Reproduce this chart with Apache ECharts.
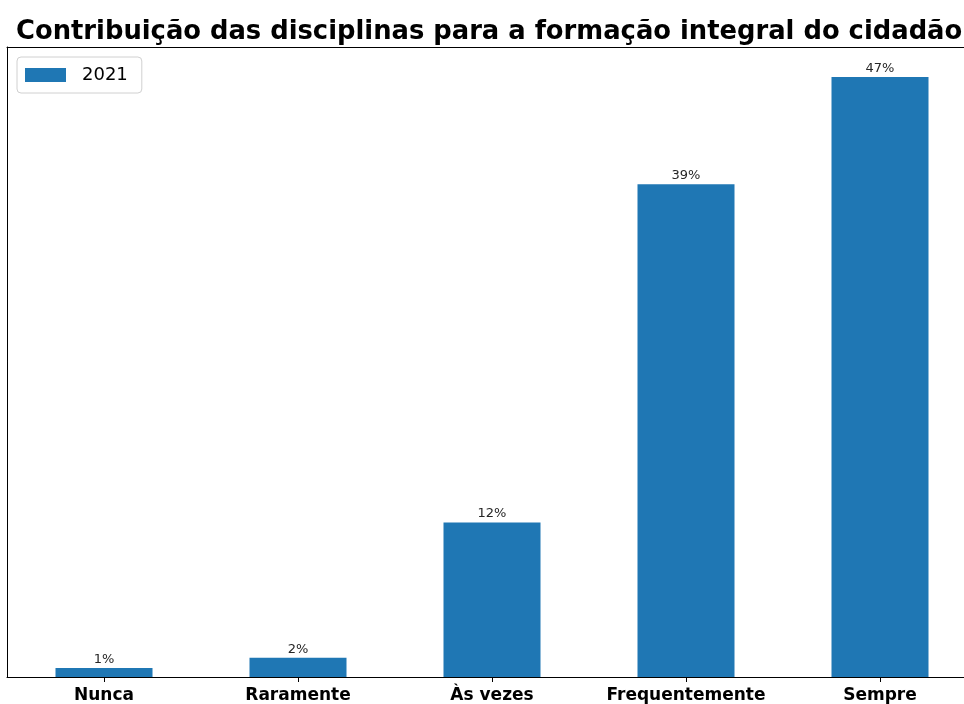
<!DOCTYPE html>
<html>
<head>
<meta charset="utf-8">
<script src="https://cdn.jsdelivr.net/npm/echarts@6/dist/echarts.min.js"></script>
<style>
html,body{margin:0;padding:0;background:#fff;overflow:hidden;width:964px;height:704px;}
#chart{width:978px;height:704px;}
</style>
</head>
<body>
<div id="chart"></div>
<script>
const titleText = 'Contribuição das disciplinas para a formação integral do cidadão';
const categories = ['Nunca', 'Raramente', 'Às vezes', 'Frequentemente', 'Sempre'];
const seriesName = '2021';
const values = [0.7, 1.5, 12.1, 38.6, 47.0];

const chart = echarts.init(document.getElementById('chart'));
const yMax = Math.max(...values) * 1.05;
chart.setOption({
  animation: false,
  backgroundColor: '#ffffff',
  textStyle: { fontFamily: 'DejaVu Sans' },
  title: {
    text: titleText,
    left: 11,
    top: 14,
    textStyle: { fontFamily: 'DejaVu Sans', fontWeight: 'bold', fontSize: 25.8, color: '#000' }
  },
  legend: {
    left: 17,
    top: 57,
    orient: 'vertical',
    data: [seriesName],
    icon: 'rect',
    itemWidth: 41,
    itemHeight: 14,
    padding: [9, 14, 9, 8],
    borderColor: '#d0d0d0',
    borderWidth: 1,
    borderRadius: 4,
    backgroundColor: '#fff',
    textStyle: { fontFamily: 'DejaVu Sans', fontSize: 18, color: '#000', padding: [0, 0, 0, 11] }
  },
  grid: {
    left: 7, top: 47, right: 1, bottom: 27,
    show: false,
    containLabel: false
  },
  xAxis: [{
    type: 'category',
    data: categories,
    boundaryGap: true,
    axisLine: { show: true, lineStyle: { color: '#000', width: 1 } },
    axisTick: { show: true, alignWithLabel: true, length: 5, lineStyle: { color: '#000' } },
    axisLabel: { interval: 0, fontFamily: 'DejaVu Sans', fontWeight: 'bold', fontSize: 17, color: '#000', margin: 10 }
  }, {
    type: 'category',
    data: categories,
    position: 'top',
    axisLine: { show: true, lineStyle: { color: '#000', width: 1 } },
    axisTick: { show: false },
    axisLabel: { show: false }
  }],
  yAxis: {
    type: 'value',
    min: 0,
    max: yMax,
    axisLine: { show: true, lineStyle: { color: '#000', width: 1 } },
    axisTick: { show: false },
    axisLabel: { show: false },
    splitLine: { show: false }
  },
  series: [{
    name: seriesName,
    type: 'bar',
    data: values,
    barWidth: '50%',
    itemStyle: { color: '#1f77b4' },
    label: {
      show: true,
      position: 'top',
      distance: 2,
      fontFamily: 'DejaVu Sans',
      fontSize: 13,
      color: '#262626',
      formatter: p => Math.round(p.value) + '%'
    }
  }]
});
</script>
</body>
</html>
